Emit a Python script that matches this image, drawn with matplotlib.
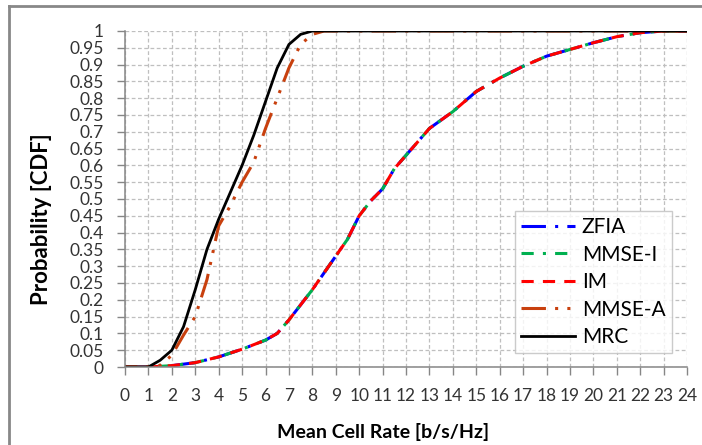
import matplotlib
matplotlib.use("Agg")
import matplotlib.pyplot as plt
from matplotlib.lines import Line2D
from matplotlib.ticker import MultipleLocator, FormatStrFormatter

plt.rcParams['font.family'] = ['Lato', 'DejaVu Sans']

# ---- data ----
x_others = [0, 1, 2, 3, 4, 5, 6, 6.5, 7, 7.5, 8, 8.5, 9, 9.5, 10, 10.5, 11, 11.5,
            12, 12.5, 13, 14, 15, 15.5, 16, 17, 18, 19, 20, 21, 22, 23, 24]
zfia = [0, 0, 0.004, 0.013, 0.03, 0.053, 0.08, 0.1, 0.14, 0.185, 0.23, 0.28, 0.33,
        0.38, 0.45, 0.495, 0.53, 0.59, 0.63, 0.67, 0.71, 0.76, 0.82, 0.84, 0.86,
        0.895, 0.925, 0.945, 0.965, 0.983, 0.995, 1, 1]
mmse_i = [0, 0, 0.004, 0.013, 0.03, 0.053, 0.08, 0.1, 0.14, 0.185, 0.23, 0.28, 0.33,
          0.38, 0.45, 0.495, 0.53, 0.59, 0.63, 0.67, 0.71, 0.76, 0.82, 0.84, 0.86,
          0.895, 0.925, 0.945, 0.965, 0.983, 0.995, 1, 1]
im = [0, 0, 0.004, 0.013, 0.03, 0.053, 0.08, 0.1, 0.14, 0.185, 0.23, 0.28, 0.33,
      0.38, 0.45, 0.495, 0.53, 0.59, 0.63, 0.67, 0.71, 0.76, 0.82, 0.84, 0.86,
      0.895, 0.925, 0.945, 0.965, 0.983, 0.995, 1, 1]

x_mmse_a = [0, 1, 1.5, 2, 2.5, 3, 3.5, 4, 4.5, 5, 5.5, 6, 6.5, 7, 7.5, 8, 8.5, 24]
mmse_a = [0, 0, 0.005, 0.035, 0.095, 0.15, 0.26, 0.42, 0.48, 0.55, 0.61, 0.71,
          0.8, 0.89, 0.96, 0.99, 1, 1]

x_mrc = [0, 1, 1.5, 2, 2.5, 3, 3.5, 4, 4.5, 5, 5.5, 6, 6.5, 7, 7.5, 8, 24]
mrc = [0, 0, 0.02, 0.05, 0.12, 0.23, 0.35, 0.44, 0.52, 0.6, 0.69, 0.79, 0.89,
       0.96, 0.99, 1, 1]

labels = ['ZFIA', 'MMSE-I', 'IM', 'MMSE-A', 'MRC']
colors = ['#0000FF', '#00B050', '#FF0000', '#C8400E', '#000000']

W, H = 702, 445
fig = plt.figure(figsize=(W / 100, H / 100), dpi=100)
ax = fig.add_axes([125 / W, 1 - 367 / H, (687 - 125) / W, (367 - 31) / H])

lw = 2.2
ax.plot(x_others, zfia, color=colors[0], lw=lw, ls=(0, (8, 3, 1, 3)), label=labels[0])
ax.plot(x_others, mmse_i, color=colors[1], lw=lw, ls=(0, (4, 3, 1, 3)), label=labels[1])
ax.plot(x_others, im, color=colors[2], lw=lw, ls=(0, (4, 3)), label=labels[2])
ax.plot(x_mmse_a, mmse_a, color=colors[3], lw=lw, ls=(0, (8, 3, 1, 3, 1, 3)), label=labels[3])
ax.plot(x_mrc, mrc, color=colors[4], lw=2.0, ls='-', label=labels[4])

ax.set_xlim(0, 24)
ax.set_ylim(0, 1)
ax.xaxis.set_major_locator(MultipleLocator(1))
ax.yaxis.set_major_locator(MultipleLocator(0.05))
ax.yaxis.set_major_formatter(FormatStrFormatter('%g'))
ax.set_yticklabels([('%g' % round(v, 2)) for v in ax.get_yticks()])

ax.grid(True, color='#BFBFBF', ls=(0, (3, 2)), lw=0.9)
ax.set_axisbelow(True)
for s in ['top', 'right']:
    ax.spines[s].set_visible(False)
for s in ['left', 'bottom']:
    ax.spines[s].set_color('#868686')
    ax.spines[s].set_linewidth(1.1)
ax.tick_params(axis='both', direction='out', length=5.8, width=1.0, color='#868686',
               labelsize=12.5, labelcolor='#333333', pad=9.5)

fig.text(383 / W, 1 - 432 / H, 'Mean Cell Rate [b/s/Hz]', fontsize=14, fontweight='bold',
         ha='center', va='center')
fig.text(42 / W, 1 - 219 / H, 'Probability [CDF]', fontsize=16, fontweight='bold',
         ha='center', va='center', rotation=90)

leg = ax.legend(loc='upper left', bbox_to_anchor=((515 - 125) / 562, (367 - 211) / 336),
                borderaxespad=0, fancybox=False, frameon=True, edgecolor='#BFBFBF',
                fontsize=15, handlelength=2.6, handletextpad=0.3, labelspacing=0.36,
                borderpad=0.3)
leg.get_frame().set_linewidth(1.0)

# outer border (left and top)
fig.add_artist(Line2D([9 / W, 9 / W], [0, 1 - 6 / H], color='#888888', lw=2.0,
                      transform=fig.transFigure))
fig.add_artist(Line2D([9 / W, 1], [1 - 6 / H, 1 - 6 / H], color='#888888', lw=2.0,
                      transform=fig.transFigure))

fig.savefig('out.png', dpi=100, facecolor='white')
